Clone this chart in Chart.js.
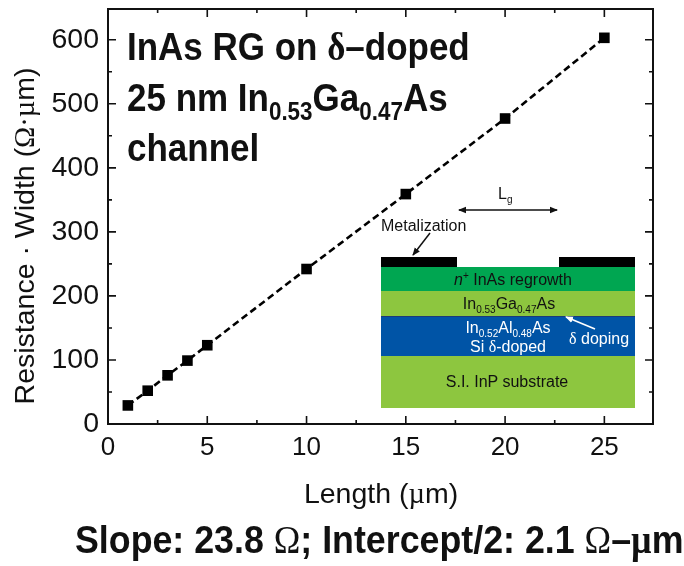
<!DOCTYPE html>
<html>
<head>
<meta charset="utf-8">
<script src="https://cdn.jsdelivr.net/npm/chart.js@4"></script>
<style>
  html, body { margin: 0; padding: 0; background: #fff; }
  #wrap { position: relative; width: 684px; height: 566px; overflow: hidden; font-family: "Liberation Sans", Arial, sans-serif; color: #111; }
  canvas { position: absolute; left: 0; top: 0; }
  .t { position: absolute; white-space: nowrap; line-height: 1; }
  .g { font-family: "Liberation Serif", serif; }
  .head { font-weight: bold; font-size: 39px; transform-origin: 0 0; transform: scaleX(0.897); }
  .head sub { font-size: 25px; vertical-align: -9px; line-height: 0; }
  .small { font-size: 16px; }
  .small sub { font-size: 10px; vertical-align: -4px; line-height: 0; }
  .axis { font-size: 28.5px; }
  .layer { position: absolute; }
  .mid { transform: translateX(-50%); }
</style>
</head>
<body>
<div id="wrap">
  <canvas id="plot" width="684" height="566"></canvas>

  <!-- esquema de capas -->
  <div class="layer" style="left:381px;top:257px;width:76px;height:10px;background:#000"></div>
  <div class="layer" style="left:559px;top:257px;width:76px;height:10px;background:#000"></div>
  <div class="layer" style="left:381px;top:267px;width:254px;height:24px;background:#00a651"></div>
  <div class="layer" style="left:381px;top:291px;width:254px;height:25px;background:#8dc63f"></div>
  <div class="layer" style="left:381px;top:316px;width:254px;height:40px;background:#0054a6;border-top:1px solid #1b3a7a;box-sizing:border-box"></div>
  <div class="layer" style="left:381px;top:356px;width:254px;height:52px;background:#8dc63f"></div>

  <svg class="layer" style="left:0;top:0" width="684" height="566">
    <defs>
      <marker id="ah" markerWidth="8" markerHeight="8" refX="7" refY="4" orient="auto-start-reverse" markerUnits="userSpaceOnUse">
        <path d="M0,0.8 L8,4 L0,7.2 Z" fill="context-stroke"/>
      </marker>
    </defs>
    <line x1="459" y1="210" x2="557" y2="210" stroke="#111" stroke-width="1.3" marker-start="url(#ah)" marker-end="url(#ah)"/>
    <line x1="430" y1="233" x2="413" y2="255" stroke="#111" stroke-width="1.5" marker-end="url(#ah)"/>
    <line x1="595" y1="329" x2="566" y2="317" stroke="#fff" stroke-width="1.6" marker-end="url(#ah)"/>
  </svg>

  <div class="t small" style="left:498px;top:186px;">L<sub>g</sub></div>
  <div class="t small" style="left:381px;top:218px;">Metalization</div>
  <div class="t small mid" style="left:513px;top:272px;"><i>n</i><sup style="font-size:10px;line-height:0">+</sup> InAs regrowth</div>
  <div class="t small mid" style="left:509px;top:296px;">In<sub>0.53</sub>Ga<sub>0.47</sub>As</div>
  <div class="t small mid" style="left:508px;top:320px;color:#fff">In<sub>0.52</sub>Al<sub>0.48</sub>As</div>
  <div class="t small mid" style="left:508px;top:339px;color:#fff">Si <span class="g">δ</span>-doped</div>
  <div class="t small" style="left:569px;top:331px;color:#fff"><span class="g">δ</span> doping</div>
  <div class="t small mid" style="left:507px;top:374px;">S.I. InP substrate</div>

  <!-- textos principales -->
  <div class="t head" style="left:127px;top:27px;">InAs RG on <span class="g">δ</span>–doped</div>
  <div class="t head" style="left:127px;top:78px;">25 nm In<sub>0.53</sub>Ga<sub>0.47</sub>As</div>
  <div class="t head" style="left:127px;top:128px;">channel</div>
  <div class="t head" style="left:75px;top:520px;transform:scaleX(0.917)">Slope: 23.8 <span class="g" style="font-weight:normal">Ω</span>; Intercept/2: 2.1 <span class="g" style="font-weight:normal">Ω</span>–<span class="g">µ</span>m</div>

  <div class="t axis mid" style="left:381px;top:479px;">Length (<span class="g">µ</span>m)</div>
  <div class="t axis" style="left:25px;top:236px;transform:translate(-50%,-50%) rotate(-90deg);">Resistance · Width (<span class="g">Ω·µ</span>m)</div>
</div>

<script>
// Valores
const lengths = [1, 2, 3, 4, 5, 10, 15, 20, 25];
const resistances = [29, 52, 76, 99, 123, 242, 359, 477, 603];

const xMajorTicks = [0, 5, 10, 15, 20, 25];
const xMinorTicks = [2.5, 7.5, 12.5, 17.5, 22.5];
const yMajorTicks = [0, 100, 200, 300, 400, 500, 600];
const yMinorTicks = [50, 150, 250, 350, 450, 550];

// Chart.js no dibuja marcas hacia adentro, asi que las agregamos con las escalas del grafico
const inwardTicks = {
    id: 'inwardTicks',
    afterDatasetsDraw(chart) {
        const { ctx, chartArea: area, scales: { x, y } } = chart;
        ctx.save();
        ctx.strokeStyle = '#111';
        ctx.lineWidth = 1.6;
        ctx.beginPath();
        const vertical = (value, len) => {
            const px = x.getPixelForValue(value);
            ctx.moveTo(px, area.bottom);
            ctx.lineTo(px, area.bottom - len);
            ctx.moveTo(px, area.top);
            ctx.lineTo(px, area.top + len);
        };
        const horizontal = (value, len) => {
            const py = y.getPixelForValue(value);
            ctx.moveTo(area.left, py);
            ctx.lineTo(area.left + len, py);
            ctx.moveTo(area.right, py);
            ctx.lineTo(area.right - len, py);
        };
        xMajorTicks.forEach(v => vertical(v, 8));
        xMinorTicks.forEach(v => vertical(v, 4));
        yMajorTicks.forEach(v => horizontal(v, 8));
        yMinorTicks.forEach(v => horizontal(v, 4));
        ctx.stroke();
        ctx.lineWidth = 2;
        ctx.strokeRect(area.left, area.top, area.right - area.left, area.bottom - area.top);
        ctx.restore();
    }
};

const ctx = document.getElementById('plot').getContext('2d');
new Chart(ctx, {
    type: 'scatter',
    data: {
        datasets: [{
            label: 'Resistance · Width',
            data: lengths.map((v, i) => ({ x: v, y: resistances[i] })),
            showLine: true,
            borderColor: '#000',
            borderWidth: 2.6,
            borderDash: [7, 4],
            backgroundColor: '#000',
            pointStyle: 'rect',
            pointRadius: 7.5,
            pointHoverRadius: 7.5,
            pointBackgroundColor: '#000',
            pointBorderWidth: 0
        }]
    },
    options: {
        responsive: false,
        animation: false,
        layout: { padding: { left: 0, top: 9, right: 31, bottom: 0 } },
        plugins: { legend: { display: false }, tooltip: { enabled: false } },
        scales: {
            x: {
                type: 'linear',
                min: 0,
                max: 27.45,
                afterFit(scale) { scale.height = 142; scale.paddingLeft = 0; scale.paddingRight = 0; },
                afterBuildTicks(scale) { scale.ticks = xMajorTicks.map(value => ({ value })); },
                grid: { display: false },
                border: { display: false },
                ticks: { color: '#111', font: { family: 'Liberation Sans', size: 26 }, maxRotation: 0, padding: 0 }
            },
            y: {
                type: 'linear',
                min: 0,
                max: 648,
                afterFit(scale) { scale.width = 108; scale.paddingTop = 0; scale.paddingBottom = 0; },
                afterBuildTicks(scale) { scale.ticks = yMajorTicks.map(value => ({ value })); },
                grid: { display: false },
                border: { display: false },
                ticks: { color: '#111', font: { family: 'Liberation Sans', size: 28.5 }, padding: 1 }
            }
        }
    },
    plugins: [inwardTicks]
});
</script>
</body>
</html>
